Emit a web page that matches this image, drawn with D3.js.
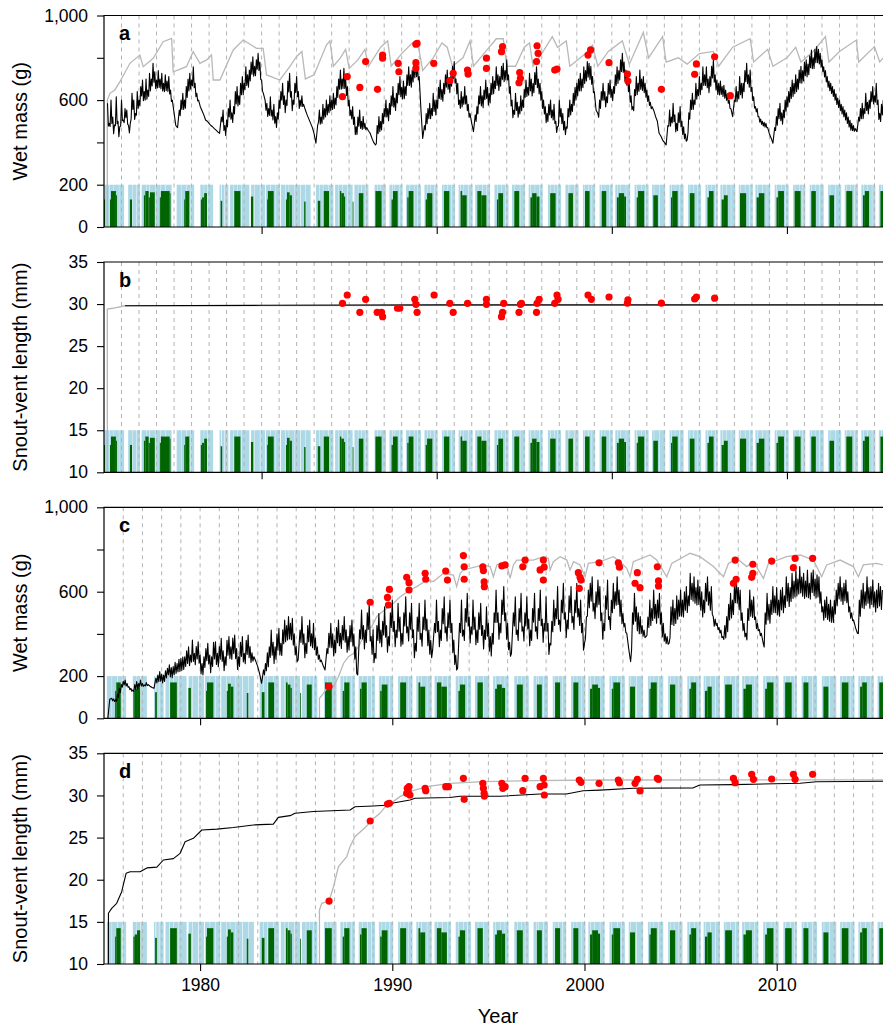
<!DOCTYPE html>
<html><head><meta charset="utf-8">
<script src="https://cdn.jsdelivr.net/npm/d3@7"></script>
<style>
body{margin:0;background:#fff}
svg{display:block}
text{font-family:"Liberation Sans",Arial,Helvetica,sans-serif;fill:#000}
</style></head>
<body><svg id="chart" width="883" height="1028"></svg>
<script>
// ---------------- DATA ----------------
const yearTicks = [1980, 1990, 2000, 2010];
const massTicks = [0, 200, 400, 600, 800, 1000];
const massTickLabels = ["0", "200", "", "600", "", "1,000"];
const svlTicks = [10, 15, 20, 25, 30, 35];
const svlTickLabels = ["10", "15", "20", "25", "30", "35"];
const panelLetters = ["a", "b", "c", "d"];
const yTitles = ["Wet mass (g)", "Snout-vent length (mm)", "Wet mass (g)", "Snout-vent length (mm)"];
const xTitle = "Year";

// weather strip: suitable activity periods (light blue) [start, end]
const blueBars = [[1971.02,1971.3],[1971.32,1971.55],[1971.57,1971.85],[1971.87,1972.15],[1972.38,1972.6],[1972.62,1972.85],
[1972.87,1973.05],[1973.15,1973.4],[1973.42,1973.6],[1973.63,1973.95],[1973.97,1974.2],[1974.22,1974.5],[1974.52,1974.86],
[1975.15,1975.4],[1975.42,1975.7],[1975.72,1975.95],[1975.97,1976.15],[1976.5,1976.7],[1976.72,1976.9],[1976.92,1977.23],
[1977.6,1977.68],[1977.72,1977.85],[1977.88,1978.1],[1978.2,1978.4],[1978.42,1978.6],[1978.62,1978.85],[1978.87,1979.3],
[1979.4,1979.6],[1979.62,1979.9],[1979.93,1980.2],[1980.25,1980.5],[1980.52,1980.8],[1980.82,1981.05],[1981.1,1981.35],
[1981.37,1981.55],[1981.57,1981.85],[1981.87,1982.2],[1982.23,1982.5],[1982.52,1982.8],[1983.1,1983.3],[1983.32,1983.5],
[1983.52,1983.8],[1983.82,1984.1],[1984.2,1984.4],[1984.42,1984.6],[1984.62,1984.9],[1984.92,1985.2],[1985.3,1985.5],
[1985.52,1985.7],[1985.72,1985.9],[1985.92,1986.1],[1986.45,1986.6],[1986.62,1986.8],[1986.82,1987.1],[1987.3,1987.45],
[1987.47,1987.6],[1987.62,1987.85],[1987.87,1988.05],[1988.25,1988.45],[1988.47,1988.7],[1988.72,1988.9],[1988.92,1989.1],
[1989.3,1989.45],[1989.47,1989.62],[1989.64,1989.85],[1989.87,1990.05],[1990.3,1990.4],[1990.42,1990.6],[1990.62,1990.85],
[1990.87,1991.05],[1991.25,1991.35],[1991.37,1991.5],[1991.52,1991.8],[1991.82,1992.05],[1992.2,1992.35],[1992.37,1992.6],
[1992.62,1992.85],[1992.87,1993.05],[1993.3,1993.45],[1993.47,1993.7],[1993.72,1993.9],[1993.92,1994.1],[1994.3,1994.45],
[1994.47,1994.75],[1994.77,1995.05],[1995.25,1995.35],[1995.37,1995.6],[1995.62,1995.85],[1995.87,1996.05],[1996.35,1996.5],
[1996.52,1996.7],[1996.72,1996.9],[1996.92,1997.1],[1997.35,1997.5],[1997.52,1997.6],[1997.62,1997.85],[1997.87,1998.1],
[1998.35,1998.45],[1998.47,1998.65],[1998.67,1998.85],[1998.87,1999.05],[1999.3,1999.4],[1999.42,1999.6],[1999.62,1999.85],
[1999.87,2000.05],[2000.2,2000.3],[2000.32,2000.5],[2000.52,2000.8],[2000.82,2001.05],[2001.3,2001.4],[2001.42,2001.7],
[2001.72,2001.9],[2001.92,2002.1],[2002.3,2002.4],[2002.42,2002.7],[2002.72,2003.05],[2003.3,2003.4],[2003.42,2003.6],
[2003.62,2003.85],[2003.87,2004.1],[2004.35,2004.45],[2004.47,2004.65],[2004.67,2004.9],[2004.92,2005.1],[2005.35,2005.45],
[2005.47,2005.7],[2005.72,2005.9],[2005.92,2006.05],[2006.2,2006.3],[2006.32,2006.55],[2006.57,2006.8],[2006.82,2007.05],
[2007.25,2007.35],[2007.37,2007.6],[2007.62,2007.85],[2007.87,2008.05],[2008.2,2008.3],[2008.32,2008.6],[2008.62,2008.85],
[2008.87,2009.05],[2009.3,2009.4],[2009.42,2009.7],[2009.72,2009.9],[2009.92,2010.1],[2010.35,2010.45],[2010.47,2010.7],
[2010.72,2010.9],[2010.92,2011.05],[2011.3,2011.4],[2011.42,2011.6],[2011.62,2011.85],[2011.87,2012.1],[2012.35,2012.45],
[2012.47,2012.75],[2012.77,2013.1],[2013.3,2013.4],[2013.42,2013.6],[2013.62,2013.85],[2013.87,2014.05],[2014.25,2014.35],
[2014.37,2014.6],[2014.62,2014.85],[2014.87,2015.05],[2015.25,2015.4],[2015.42,2016]];

// food availability (dark green) [start, end, fraction of strip height]
const greenBars = [[1971.0,1971.06,0.65],[1971.34,1971.4,0.65],[1971.4,1971.68,0.85],[1971.68,1971.74,0.75],[1972.48,1972.6,0.65],
[1973.28,1973.36,0.75],[1973.36,1973.55,0.85],[1973.55,1973.62,0.7],[1973.62,1973.9,0.82],[1974.19,1974.25,0.7],
[1974.25,1974.75,0.85],[1974.75,1974.8,0.8],[1975.58,1975.64,0.65],[1975.64,1975.87,0.85],[1976.53,1976.6,0.65],
[1976.6,1976.72,0.7],[1976.72,1976.88,0.8],[1977.66,1977.75,0.62],[1978.44,1978.79,0.85],[1979.39,1979.52,0.72],
[1980.31,1980.36,0.65],[1980.36,1980.69,0.85],[1981.39,1981.45,0.65],[1981.45,1981.6,0.82],[1981.6,1981.73,0.75],
[1982.43,1982.51,0.6],[1983.21,1983.35,0.62],[1983.55,1983.85,0.85],[1984.47,1984.55,0.85],[1984.55,1984.7,0.8],
[1984.7,1984.77,0.72],[1985.2,1985.23,0.6],[1985.55,1985.81,0.8],[1986.5,1986.85,0.85],[1987.42,1987.5,0.65],
[1987.5,1987.77,0.85],[1988.32,1988.4,0.7],[1988.4,1988.67,0.85],[1989.37,1989.45,0.65],[1989.45,1989.75,0.8],
[1990.41,1990.72,0.85],[1991.36,1991.45,0.85],[1991.45,1991.71,0.75],[1992.32,1992.55,0.85],[1992.55,1992.84,0.75],
[1993.44,1993.52,0.65],[1993.52,1993.79,0.8],[1994.43,1994.71,0.85],[1995.35,1995.45,0.7],[1995.45,1995.7,0.8],
[1995.7,1995.87,0.72],[1996.48,1996.79,0.8],[1997.52,1997.78,0.8],[1998.47,1998.73,0.85],[1999.42,1999.68,0.85],
[2000.29,2000.4,0.7],[2000.4,2000.7,0.8],[2000.7,2000.81,0.72],[2001.42,2001.5,0.7],[2001.5,2001.85,0.85],
[2002.37,2002.63,0.75],[2003.38,2003.45,0.7],[2003.45,2003.76,0.85],[2004.45,2004.72,0.8],[2005.46,2005.55,0.7],
[2005.55,2005.81,0.85],[2006.27,2006.4,0.65],[2006.4,2006.62,0.75],[2007.32,2007.67,0.8],[2008.27,2008.4,0.7],
[2008.4,2008.71,0.8],[2009.4,2009.5,0.7],[2009.5,2009.83,0.85],[2010.44,2010.78,0.85],[2011.39,2011.65,0.85],
[2012.43,2012.69,0.75],[2013.39,2013.73,0.85],[2014.34,2014.45,0.75],[2014.45,2014.69,0.85],[2015.34,2015.53,0.85]];

// panel a: adult wet mass, simulated (black), sampled every 0.1 yr from 1971.2
const massA_t0 = 1971.2, massA_dt = 0.1;
const massA_sim = [585,490,600,520,482,616,500,474,600,506,560,553,480,490,632,600,537,640,600,664,695,640,700,648,727,700,774,
734,695,740,700,727,679,720,690,711,648,600,540,480,470,553,600,632,600,664,700,727,695,758,680,632,600,569,550,530,506,500,490,
480,474,465,458,450,443,520,553,480,506,560,600,540,569,640,664,620,679,711,680,758,720,742,780,805,760,790,821,780,695,632,600,
585,560,616,553,580,522,540,600,640,679,620,600,690,727,640,600,680,711,640,600,620,580,553,530,510,490,470,440,396,480,553,520,
580,560,600,580,620,600,632,610,664,700,742,700,750,700,664,600,553,569,520,474,520,553,500,522,490,470,455,443,420,400,388,480,
522,500,537,560,600,560,585,620,664,610,632,680,711,660,690,664,720,758,720,742,770,782,760,711,553,419,480,537,560,585,560,632,
600,600,660,695,650,679,720,742,700,711,760,782,700,679,600,640,616,664,620,580,537,490,451,530,569,620,664,620,648,695,660,632,
680,711,690,758,720,711,760,774,740,790,720,664,600,553,632,590,569,620,600,650,695,660,727,700,679,730,758,700,679,640,600,570,
537,580,600,553,580,500,474,600,560,537,500,474,560,600,580,632,660,679,700,727,700,758,740,782,774,760,711,640,553,537,600,640,
679,640,616,680,695,650,664,720,758,740,790,821,780,742,720,679,620,569,650,711,680,742,700,711,680,648,620,590,569,550,522,500,
443,430,411,400,388,480,553,520,585,530,490,540,569,500,474,440,411,540,600,632,600,679,650,711,680,758,720,758,700,711,760,790,
720,695,679,690,664,670,648,630,600,560,522,600,664,640,711,680,679,740,774,720,742,660,616,569,560,522,510,500,495,490,470,440,
420,396,470,522,560,585,540,553,600,616,640,660,695,680,720,700,742,760,740,780,790,770,810,837,800,840,853,840,821,790,758,740,
711,690,680,664,650,630,610,600,580,570,553,540,520,505,490,480,465,451,520,560,585,560,632,590,600,640,664,620,679,600,537,580,
600];
// depth of short feeding/fasting dips below the local level, per 0.1-yr step (rows: Y.2 .. Y+1.1)
const massA_dip = [
60,70,70,60,70,70,60,60,50,40, 40,30,40,50,60,60,60,60,60,60, 70,70,70,70,70,70,70,60,60,60, 60,60,60,60,60,50,30,0,0,0,
0,50,60,60,70,70,70,60,60,60, 40,20,0,0,0,0,0,0,0,0, 0,0,0,0,0,40,60,60,60,60, 60,60,70,70,70,70,70,70,70,70,
70,70,70,70,60,60,60,40,20,0, 40,50,60,60,60,60,60,60,60,60, 70,70,70,70,70,70,60,60,60,60, 40,30,0,0,0,0,0,0,0,0,
20,50,60,60,60,60,60,60,60,60, 60,70,70,70,70,70,60,60,50,50, 60,60,60,60,60,50,40,20,0,0, 0,0,0,40,60,60,60,60,60,60,
70,70,70,70,70,70,70,70,70,70, 70,70,70,70,70,70,60,40,0,0, 0,50,60,60,60,70,70,70,70,70, 70,70,70,70,70,70,70,70,60,60,
60,60,60,60,60,50,40,0,0,0, 50,60,60,70,70,70,70,70,70,70, 70,70,70,70,70,70,70,70,60,60, 60,60,60,60,60,60,60,60,60,60,
70,70,70,70,70,70,60,60,60,50, 60,60,60,60,60,50,40,60,60,60, 60,50,50,60,60,60,70,70,70,70, 70,70,70,70,70,70,60,40,0,0,
50,60,60,60,60,60,60,60,60,60, 70,70,70,70,70,70,60,60,60,40, 60,60,70,70,70,60,60,50,40,30, 20,0,0,0,0,0,0,0,0,0,
40,60,60,60,60,60,60,60,50,40, 20,30,60,60,60,60,60,60,70,70, 70,70,70,70,70,70,70,60,60,60, 50,50,50,40,30,20,0,0,40,60,
70,70,70,70,70,70,70,60,40,30, 20,20,20,20,20,20,10,0,0,0, 0,40,60,60,60,60,60,60,60,60, 70,70,70,70,70,70,70,70,70,70,
70,70,70,70,70,70,60,50,40,40, 40,40,40,40,40,40,40,40,40,40, 40,40,40,40,40,30,20,0,0,40, 60,60,60,60,60,60,60,60,60,60,
60,60,60,60];

// panel a: unlimited-food wet mass (grey)
const massA_max = [[1971.19,0],[1971.19,600],[1971.34,632],[1971.62,648],[1971.91,687],[1972.48,774],[1973.05,813],[1973.24,758],
[1973.81,798],[1974.38,876],[1974.86,892],[1974.95,734],[1975.71,758],[1976.09,829],[1976.48,774],[1976.86,790],[1977.14,813],
[1977.24,695],[1977.62,695],[1978.38,837],[1978.95,884],[1979.71,845],[1980.09,845],[1980.28,719],[1981.04,695],[1981.61,758],
[1981.99,805],[1982.3,830],[1982.5,700],[1983.0,720],[1983.7,860],[1983.9,880],[1984.1,760],[1984.5,800],[1984.8,840],[1985.0,750],
[1985.5,790],[1985.9,840],[1986.1,760],[1986.8,850],[1987.2,880],[1987.4,760],[1988.0,820],[1988.6,870],[1988.9,880],[1989.2,740],
[1989.8,800],[1990.3,870],[1990.6,850],[1990.9,760],[1991.5,800],[1991.9,880],[1992.1,760],[1992.8,830],[1993.4,890],[1993.8,890],
[1994.0,760],[1994.5,760],[1995.0,850],[1995.3,870],[1995.5,760],[1996.0,820],[1996.6,900],[1996.9,850],[1997.4,880],[1997.6,760],
[1998.5,820],[1998.9,860],[1999.2,760],[1999.8,830],[2000.6,880],[2001.0,770],[2001.8,920],[2002.1,800],[2002.9,900],[2003.1,780],
[2003.8,800],[2004.3,770],[2005.0,820],[2005.8,830],[2006.1,760],[2006.9,850],[2007.9,890],[2008.1,780],[2008.9,840],[2009.2,760],
[2010.0,800],[2010.5,850],[2010.8,780],[2011.5,830],[2012.2,900],[2012.4,780],[2013.0,830],[2013.96,884],[2014.1,780],[2015.0,853],
[2015.3,780],[2015.5,800]];

const obsA_t = [1984.62,1984.89,1985.61,1985.94,1986.62,1986.91,1986.91,1987.80,1987.84,1988.81,1988.88,1988.81,1988.81,1989.83,
1990.75,1990.94,1991.76,1991.79,1992.84,1992.84,1993.76,1993.70,1994.74,1994.78,1994.70,1995.73,1995.79,1995.70,1996.74,1996.87,
1998.64,1998.79,1999.84,2000.89,2000.92,2002.83,2004.83,2004.73,2005.87,2006.77];
const obsA_mass = [616,711,660,782,651,813,798,774,734,864,868,777,750,774,692,727,742,723,798,750,853,829,730,703,682,857,821,782,
742,747,813,837,777,723,690,651,771,722,805,621];

// panel b: adult snout-vent length
const svlB_sim = [[1972.2,29.8],[1980,29.85],[1990,29.9],[2016,29.9]];
const svlB_max = [[1971.19,10],[1971.19,29.4],[1971.5,29.5],[1972.2,29.8],[2016,29.9]];
const obsB_t = [1984.62,1984.89,1985.61,1985.94,1986.60,1986.85,1986.91,1987.76,1987.89,1988.75,1988.81,1988.88,1989.85,1990.75,
1990.94,1991.76,1992.84,1992.84,1993.70,1993.76,1993.83,1994.70,1994.78,1994.84,1995.70,1995.73,1995.85,1996.74,1996.87,1996.93,
1998.64,1998.83,1999.84,2000.89,2000.92,2002.83,2004.83,2004.73,2005.87];
const obsB_svl = [30.09,31.08,29.02,30.56,29.02,29.02,28.5,29.5,29.5,30.56,29.97,29.02,31.08,30.09,29.02,30.09,30.56,29.97,28.5,
29.02,30.09,29.02,29.97,30.09,29.02,30.09,30.56,30.09,31.08,30.56,31.08,30.56,30.84,30.1,30.5,30.1,30.84,30.6,30.7];

// panel c: juvenile wet mass, simulated (black), sampled every 0.1 yr from 1975.2
const massC_t0 = 1975.2, massC_dt = 0.1;
const massC_sim = [0,90,95,92,87,115,142,160,175,181,165,150,142,134,160,174,165,181,165,158,169,160,152,146,142,190,205,221,210,
205,225,237,253,240,245,265,260,280,284,290,292,320,339,300,371,308,340,363,300,260,292,330,355,300,292,360,363,308,340,379,320,
292,370,387,339,380,395,330,292,360,387,308,370,395,340,310,292,270,245,210,166,230,260,310,339,418,360,339,400,426,355,420,466,
440,482,450,474,400,340,276,418,482,400,355,440,466,400,450,380,339,300,276,250,229,330,403,450,400,371,430,466,403,440,482,420,
387,440,466,400,339,205,420,513,440,418,500,545,387,420,308,440,497,418,460,529,440,387,500,561,460,418,545,480,403,500,576,434,
500,545,420,355,480,545,403,480,561,470,418,370,324,450,561,460,418,520,576,434,500,561,450,371,300,237,450,561,418,520,592,480,
434,561,480,418,500,545,440,418,529,450,387,403,500,608,500,450,560,624,500,450,360,308,500,576,418,520,592,434,500,576,470,418,
520,592,434,520,608,470,450,576,450,355,460,561,520,624,466,560,640,500,466,580,624,482,560,640,520,561,450,355,480,608,640,671,
545,600,655,624,500,450,580,655,482,560,640,600,671,608,560,497,450,403,330,268,500,592,529,500,482,440,418,387,480,561,520,608,
540,561,592,500,450,400,387,355,529,561,520,580,560,608,560,600,624,580,687,640,671,620,655,624,600,561,640,671,600,624,482,470,
450,430,418,387,440,482,540,592,560,624,671,620,608,500,450,403,520,608,560,576,480,450,420,403,355,500,592,540,561,624,580,620,
560,608,620,580,671,640,620,687,650,700,660,719,670,687,650,703,640,690,703,660,680,671,600,529,560,576,540,561,529,560,608,640,
671,620,640,655,600,529,500,466,430,403,560,608,640,600,671,620,624,655,600,608,640,624,608];
const massC_dip = [
0,0,10,10,20,30,30,20,20,20, 10,10,10,20,30,30,20,20,10,10, 10,0,0,0,0,30,40,40,40,40, 40,40,50,50,50,50,50,60,60,60,
60,70,70,70,70,70,70,70,70,70, 70,70,70,80,80,80,80,80,80,80, 80,80,80,80,80,80,80,80,80,80, 80,80,80,80,60,30,0,0,0,0,
0,40,60,80,90,90,90,90,90,90, 90,90,90,90,90,90,90,70,40,0, 90,90,90,90,90,90,90,90,60,40, 20,0,0,0,60,90,90,90,90,90,
90,90,90,90,90,90,90,90,90,60, 0,90,100,100,100,100,100,100,100,90, 100,100,100,100,100,100,100,100,100,100,
100,100,100,100,100,100,100,100,100,100, 100,100,100,100,100,100,100,90,60,0, 100,100,100,100,100,100,100,100,100,100,
80,40,0,100,100,100,100,100,100,100, 100,100,100,100,100,100,100,100,100,100, 100,100,100,100,100,100,100,100,80,40,
0,100,100,100,100,100,100,100,100,100, 100,100,100,100,100,100,100,100,100,100, 60,100,100,100,100,100,100,100,100,100,
100,100,100,100,100,100,100,80,40,60, 100,100,100,100,100,100,100,100,100,100, 100,100,100,100,100,100,100,80,40,20,
0,0,60,100,100,100,90,60,40,20, 40,90,100,100,100,100,100,100,90,60, 40,20,60,100,100,100,100,100,100,100,
100,100,100,100,100,100,100,100,100,100, 100,100,100,100,60,40,20,20,20,20, 40,80,100,100,100,100,100,100,100,90,
60,40,90,100,100,90,60,40,20,20, 0,90,100,100,100,100,100,100,100,100, 100,100,100,100,100,100,100,100,100,100,
100,100,100,100,100,100,100,100,100,100, 90,60,80,90,90,90,90,90,90,90, 90,90,90,90,80,60,40,20,0,0,
80,100,100,100,100,100,100,100,100,100, 100,100,100,100];

const massC_max = [[1986.21,0],[1986.21,95],[1986.42,118],[1986.59,142],[1986.94,150],[1987.2,197],[1987.46,260],[1987.72,292],
[1987.98,308],[1988.24,339],[1988.5,387],[1988.67,418],[1988.93,434],[1989.19,482],[1989.37,497],[1989.71,521],[1990.06,545],
[1990.41,576],[1990.93,608],[1991.27,624],[1991.79,655],[1992.14,648],[1992.66,687],[1993.18,679],[1993.35,624],[1993.53,687],
[1993.7,703],[1994.74,727],[1995.09,719],[1995.26,671],[1995.44,727],[1995.61,734],[1995.96,727],[1996.13,663],[1996.3,727],
[1996.48,750],[1997.34,750],[1997.86,766],[1998.12,758],[1998.21,703],[1998.38,742],[1998.73,766],[1999.08,750],[1999.25,703],
[1999.43,742],[1999.77,727],[2000.03,671],[2000.2,734],[2000.81,742],[2001.5,766],[2001.85,742],[2002.2,711],[2002.37,671],
[2002.54,742],[2003.41,774],[2003.76,750],[2004.28,671],[2004.54,734],[2005.49,782],[2006.01,766],[2006.71,719],[2007.23,671],
[2007.49,734],[2007.92,758],[2008.44,719],[2008.79,742],[2009.31,663],[2009.57,734],[2010.52,766],[2011.22,774],[2011.91,750],
[2012.34,671],[2012.6,727],[2013.3,750],[2013.99,719],[2014.25,671],[2014.51,727],[2015.2,734],[2015.53,727]];

const obsC_t = [1986.71,1988.85,1989.75,1989.85,1989.80,1990.75,1990.87,1990.87,1991.71,1991.74,1992.78,1992.87,1993.70,1993.74,
1993.74,1994.71,1994.74,1994.78,1994.79,1995.70,1995.87,1996.79,1996.91,1997.69,1997.86,1997.90,1997.86,1999.68,1999.77,1999.73,
1999.82,2000.76,2001.76,2001.82,2002.75,2002.63,2002.89,2003.79,2003.85,2003.85,2007.84,2007.89,2007.75,2008.76,2008.76,2008.70,
2009.74,2010.96,2010.87,2011.87];
const obsC_mass = [150,550,573,611,537,668,643,608,687,659,698,655,771,718,659,718,700,647,624,722,727,718,750,703,750,716,655,690,
668,616,655,737,737,716,690,640,619,718,652,627,750,659,640,730,687,668,745,758,714,758];

// panel d: juvenile snout-vent length
const svlD_sim = [[1975.23,10],[1975.23,16.02],[1975.4,16.6],[1975.66,17.2],[1975.92,18.58],[1976.15,20.76],[1976.36,20.95],
[1976.88,20.95],[1977.23,21.4],[1977.75,21.5],[1978.09,22.34],[1978.61,22.5],[1978.96,23.13],[1979.22,24.51],[1979.65,24.91],
[1980.09,25.9],[1980.87,26.0],[1981.73,26.2],[1982.77,26.5],[1983.81,26.6],[1984.07,27.4],[1984.68,27.6],[1984.94,27.88],
[1985.89,28.1],[1987.8,28.27],[1988.06,28.66],[1989.01,28.75],[1989.88,28.87],[1990.05,29.1],[1990.92,29.46],[1991.18,29.66],
[1993.0,29.76],[1993.52,29.9],[1995.6,29.9],[1997.68,30.17],[1999.06,30.17],[1999.93,30.56],[2000.8,30.63],[2002.54,30.85],
[2005.66,30.9],[2006.0,31.24],[2007.75,31.28],[2011.22,31.44],[2012.08,31.63],[2016,31.7]];
const svlD_max = [[1986.21,10],[1986.21,16.4],[1986.33,17.2],[1986.71,17.47],[1986.94,19.17],[1987.2,21.55],[1987.63,22.73],
[1987.8,23.92],[1988.06,25.1],[1988.67,26.37],[1988.93,27.09],[1989.36,27.88],[1989.71,28.87],[1990.05,29.27],[1990.4,29.86],
[1990.92,30.45],[1991.79,31.04],[1993.0,31.44],[1994.74,31.63],[1997.34,31.75],[2000.8,31.83],[2016,31.85]];
const obsD_t = [1986.71,1988.85,1989.75,1989.85,1990.75,1990.78,1990.87,1990.83,1990.92,1991.71,1991.74,1992.78,1992.92,1993.70,
1993.74,1994.71,1994.74,1994.78,1994.79,1995.70,1995.75,1995.87,1996.79,1996.91,1997.69,1997.86,1997.90,1997.91,1999.73,1999.82,
2000.76,2001.76,2001.82,2002.63,2002.75,2002.89,2003.79,2003.85,2007.75,2007.84,2008.70,2008.79,2009.74,2010.87,2010.96,2011.87];
const obsD_svl = [17.47,26.97,28.98,29.07,30.25,30.85,31.04,30.45,30.05,30.85,30.56,31.04,31.04,32.03,29.54,31.44,30.85,30.25,29.93,
31.44,30.85,31.04,30.56,32.03,31.04,32.03,31.24,30.05,31.83,31.56,31.44,31.83,31.51,31.44,31.91,30.53,32.03,31.91,32.03,31.51,
32.51,31.91,31.95,32.51,31.91,32.51];

// ---------------- DRAW ----------------
const svg = d3.select("#chart");
const left = 104, right = 892;
// regular series with short dips between samples
function dipSeries(t0, dt, vals, dips) {
  const pts = [];
  vals.forEach((v, i) => {
    pts.push([t0 + i * dt, v]);
    if (i < vals.length - 1 && dips[i]) pts.push([t0 + (i + 0.5) * dt, (v + vals[i + 1]) / 2 - dips[i]]);
  });
  return pts;
}
const panelDefs = [
  {top: 15.5, bottom: 227, xdom: [1971, 2016], ydom: [0, 1000], band: [0, 200], ticks: massTicks, labels: massTickLabels,
   sim: dipSeries(massA_t0, massA_dt, massA_sim, massA_dip), max: massA_max, obsT: obsA_t, obsV: obsA_mass},
  {top: 262, bottom: 472.3, xdom: [1971, 2016], ydom: [10, 35], band: [10, 15], ticks: svlTicks, labels: svlTickLabels,
   sim: svlB_sim, max: svlB_max, obsT: obsB_t, obsV: obsB_svl},
  {top: 507.3, bottom: 718.3, xdom: [1975, 2016], ydom: [0, 1000], band: [0, 200], ticks: massTicks, labels: massTickLabels,
   sim: dipSeries(massC_t0, massC_dt, massC_sim, massC_dip), max: massC_max, obsT: obsC_t, obsV: obsC_mass},
  {top: 753.3, bottom: 964, xdom: [1975, 2016], ydom: [10, 35], band: [10, 15], ticks: svlTicks, labels: svlTickLabels,
   sim: svlD_sim, max: svlD_max, obsT: obsD_t, obsV: obsD_svl}
];

panelDefs.forEach((p, i) => {
  const x = d3.scaleLinear().domain(p.xdom).range([left, right]);
  const y = d3.scaleLinear().domain(p.ydom).range([p.bottom, p.top]);
  const g = svg.append("g");
  const clipId = "clip" + i;
  svg.append("clipPath").attr("id", clipId).append("rect")
    .attr("x", left).attr("y", p.top).attr("width", right - left).attr("height", p.bottom - p.top);
  const plot = g.append("g").attr("clip-path", `url(#${clipId})`);

  plot.selectAll(".blue").data(blueBars).join("rect")
    .attr("x", d => x(d[0])).attr("width", d => Math.max(0.5, x(d[1]) - x(d[0])))
    .attr("y", y(p.band[1])).attr("height", y(p.band[0]) - y(p.band[1]))
    .attr("fill", "#add8e6");
  plot.selectAll(".green").data(greenBars).join("rect")
    .attr("x", d => x(d[0])).attr("width", d => Math.max(0.8, x(d[1]) - x(d[0])))
    .attr("y", d => y(p.band[0] + d[2] * (p.band[1] - p.band[0])))
    .attr("height", d => y(p.band[0]) - y(p.band[0] + d[2] * (p.band[1] - p.band[0])))
    .attr("fill", "#006400");
  const years = d3.range(Math.ceil(p.xdom[0] + 0.5), p.xdom[1]);
  plot.selectAll(".yr").data(years).join("line")
    .attr("x1", d => x(d)).attr("x2", d => x(d)).attr("y1", p.top).attr("y2", p.bottom)
    .attr("stroke", "#b3b3b3").attr("stroke-width", 1).attr("stroke-dasharray", "4,4");

  const line = d3.line().x(d => x(d[0])).y(d => y(d[1]));
  plot.append("path").attr("d", line(p.max)).attr("fill", "none").attr("stroke", "#b8b8b8").attr("stroke-width", 1.3);
  plot.append("path").attr("d", line(p.sim)).attr("fill", "none").attr("stroke", "#000").attr("stroke-width", 1.1)
    .attr("stroke-linejoin", "round");

  plot.selectAll(".obs").data(p.obsT.map((t, k) => [t, p.obsV[k]])).join("circle")
    .attr("cx", d => x(d[0])).attr("cy", d => y(d[1])).attr("r", 3.6).attr("fill", "#ff0000");

  g.append("path").attr("d", `M${right},${p.top}H${left}V${p.bottom}H${right}`)
    .attr("fill", "none").attr("stroke", "#000").attr("stroke-width", 1.2);

  const ya = g.append("g").attr("transform", `translate(${left},0)`)
    .call(d3.axisLeft(y).tickValues(p.ticks).tickSize(7).tickPadding(9).tickFormat((d, k) => p.labels[k]));
  ya.select(".domain").remove();
  ya.selectAll("line").attr("stroke", "#000").attr("stroke-width", 1.1);
  ya.selectAll("text").attr("font-size", 17.5).attr("font-family", "Liberation Sans, Arial, sans-serif").attr("fill", "#000");

  const xa = g.append("g").attr("transform", `translate(0,${p.bottom})`)
    .call(d3.axisBottom(x).tickValues(yearTicks).tickSize(7).tickPadding(8)
      .tickFormat(i === 3 ? d3.format("d") : () => ""));
  xa.select(".domain").remove();
  xa.selectAll("line").attr("stroke", "#000").attr("stroke-width", 1.1);
  xa.selectAll("text").attr("font-size", 17.5).attr("font-family", "Liberation Sans, Arial, sans-serif").attr("fill", "#000");

  g.append("text").attr("x", 119).attr("y", p.top + 24.5).attr("font-size", 20).attr("font-weight", "bold")
    .text(panelLetters[i]);
  g.append("text").attr("transform", `translate(27,${(p.top + p.bottom) / 2}) rotate(-90)`)
    .attr("text-anchor", "middle").attr("font-size", 20).text(yTitles[i]);
});

svg.append("text").attr("x", (left + right) / 2).attr("y", 1023).attr("text-anchor", "middle")
  .attr("font-size", 20).text(xTitle);
</script></body></html>
